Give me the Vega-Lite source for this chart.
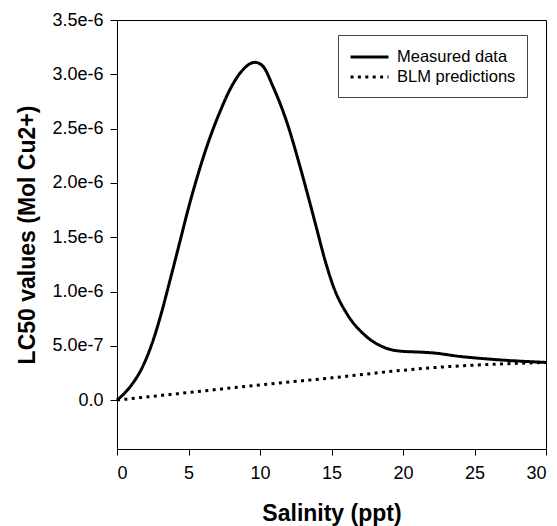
{
  "$schema": "https://vega.github.io/schema/vega-lite/v6.json",
  "width": 429,
  "height": 429,
  "autosize": "none",
  "padding": {"left": 117, "top": 20, "right": 11, "bottom": 77},
  "background": "white",
  "config": {
    "font": "Liberation Sans",
    "view": {"stroke": "black", "strokeWidth": 1},
    "axis": {
      "grid": false,
      "domainColor": "black",
      "tickColor": "black",
      "labelColor": "black",
      "titleColor": "black",
      "labelFont": "Liberation Sans",
      "titleFont": "Liberation Sans",
      "labelFontSize": 18,
      "titleFontSize": 23,
      "titleFontWeight": "bold",
      "tickSize": 6
    }
  },
  "data": {
    "values": [
      {"x": 0, "y": 0, "series": "Measured data"},
      {"x": 0.9, "y": 0.12e-6, "series": "Measured data"},
      {"x": 1.8, "y": 0.31e-6, "series": "Measured data"},
      {"x": 2.5, "y": 0.54e-6, "series": "Measured data"},
      {"x": 3.1, "y": 0.8e-6, "series": "Measured data"},
      {"x": 3.7, "y": 1.1e-6, "series": "Measured data"},
      {"x": 4.4, "y": 1.46e-6, "series": "Measured data"},
      {"x": 5.0, "y": 1.77e-6, "series": "Measured data"},
      {"x": 5.6, "y": 2.05e-6, "series": "Measured data"},
      {"x": 6.4, "y": 2.38e-6, "series": "Measured data"},
      {"x": 7.2, "y": 2.655e-6, "series": "Measured data"},
      {"x": 7.9, "y": 2.86e-6, "series": "Measured data"},
      {"x": 8.6, "y": 3.01e-6, "series": "Measured data"},
      {"x": 9.65, "y": 3.11e-6, "series": "Measured data"},
      {"x": 10.2, "y": 3.075e-6, "series": "Measured data"},
      {"x": 10.9, "y": 2.89e-6, "series": "Measured data"},
      {"x": 11.9, "y": 2.55e-6, "series": "Measured data"},
      {"x": 12.8, "y": 2.15e-6, "series": "Measured data"},
      {"x": 13.4, "y": 1.86e-6, "series": "Measured data"},
      {"x": 14.0, "y": 1.56e-6, "series": "Measured data"},
      {"x": 14.5, "y": 1.31e-6, "series": "Measured data"},
      {"x": 15.15, "y": 1.04e-6, "series": "Measured data"},
      {"x": 16.1, "y": 0.79e-6, "series": "Measured data"},
      {"x": 17.2, "y": 0.614e-6, "series": "Measured data"},
      {"x": 18.6, "y": 0.49e-6, "series": "Measured data"},
      {"x": 19.8, "y": 0.451e-6, "series": "Measured data"},
      {"x": 21.2, "y": 0.442e-6, "series": "Measured data"},
      {"x": 22.0, "y": 0.436e-6, "series": "Measured data"},
      {"x": 24.0, "y": 0.402e-6, "series": "Measured data"},
      {"x": 26.3, "y": 0.375e-6, "series": "Measured data"},
      {"x": 30.0, "y": 0.347e-6, "series": "Measured data"},
      {"x": 0, "y": 0, "series": "BLM predictions"},
      {"x": 5, "y": 0.07e-6, "series": "BLM predictions"},
      {"x": 10, "y": 0.14e-6, "series": "BLM predictions"},
      {"x": 15, "y": 0.205e-6, "series": "BLM predictions"},
      {"x": 20, "y": 0.275e-6, "series": "BLM predictions"},
      {"x": 22, "y": 0.298e-6, "series": "BLM predictions"},
      {"x": 25, "y": 0.322e-6, "series": "BLM predictions"},
      {"x": 30, "y": 0.347e-6, "series": "BLM predictions"}
    ]
  },
  "mark": {"type": "line", "interpolate": "monotone", "color": "black", "strokeWidth": 3},
  "encoding": {
    "x": {
      "field": "x",
      "type": "quantitative",
      "scale": {"domain": [0, 30], "nice": false},
      "axis": {"values": [0, 5, 10, 15, 20, 25, 30], "title": "Salinity (ppt)", "labelPadding": 9, "titlePadding": 20}
    },
    "y": {
      "field": "y",
      "type": "quantitative",
      "scale": {"domain": [-0.00000045, 0.0000035], "nice": false, "zero": false},
      "axis": {
        "values": [0, 0.0000005, 0.000001, 0.0000015, 0.000002, 0.0000025, 0.000003, 0.0000035],
        "labelExpr": "datum.value == 0 ? '0.0' : format(datum.value, '.1e')",
        "title": "LC50 values (Mol Cu2+)",
        "tickSize": 7,
        "labelPadding": 7,
        "titlePadding": 12
      }
    },
    "detail": {"field": "series"},
    "strokeDash": {
      "field": "series",
      "type": "nominal",
      "scale": {"domain": ["Measured data", "BLM predictions"], "range": [[1, 0], [3, 4.4]]},
      "legend": {
        "title": null,
        "orient": "none",
        "legendX": 221,
        "legendY": 15,
        "strokeColor": "#444",
        "fillColor": "white",
        "padding": 11,
        "symbolType": "M-1,0H3",
        "symbolSize": 361,
        "symbolStrokeWidth": 3,
        "symbolStrokeColor": "black",
        "labelFontSize": 16.5,
        "labelColor": "black",
        "labelOffset": 26,
        "rowPadding": 0
      }
    }
  }
}
